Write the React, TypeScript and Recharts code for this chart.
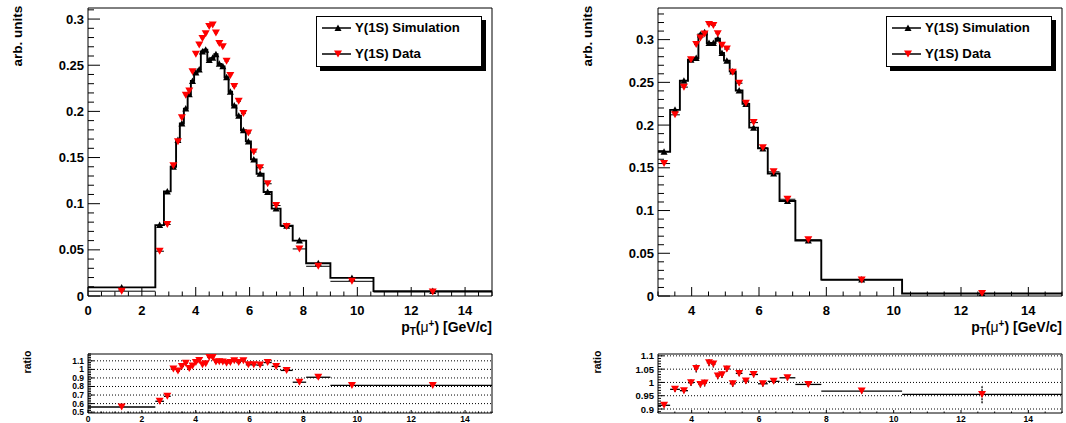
import React from 'react';
import {
  ComposedChart,
  Line,
  Scatter,
  XAxis,
  YAxis,
  ErrorBar,
  ReferenceLine,
  ReferenceArea,
} from 'recharts';

const FONT = '"Liberation Sans", Arial, Helvetica, sans-serif';

// left pad: full pT range, 33 bins
const leftEdges = [
  0, 2.5, 2.82, 3.07, 3.27, 3.41, 3.56, 3.7, 3.82, 3.94, 4.07, 4.19, 4.31, 4.43, 4.57, 4.69, 4.81,
  4.94, 5.07, 5.22, 5.35, 5.51, 5.68, 5.86, 6.05, 6.26, 6.52, 6.82, 7.15, 7.6, 8.1, 9.0, 10.6, 15,
];
const leftSim = [
  0.0093, 0.0768, 0.1133, 0.14, 0.169, 0.1868, 0.203, 0.2185, 0.233, 0.242, 0.2455, 0.265, 0.2668,
  0.2557, 0.258, 0.262, 0.2515, 0.2488, 0.237, 0.2213, 0.2064, 0.1954, 0.1796, 0.1675, 0.148, 0.1324,
  0.1126, 0.0947, 0.0762, 0.06, 0.0355, 0.0196, 0.0053,
];
const leftData = [
  0.0052, 0.0485, 0.0775, 0.141, 0.167, 0.193, 0.2175, 0.222, 0.243, 0.262, 0.272, 0.279, 0.284,
  0.292, 0.2935, 0.285, 0.2736, 0.27, 0.2544, 0.239, 0.227, 0.211, 0.1976, 0.1766, 0.156, 0.139,
  0.1216, 0.098, 0.0753, 0.051, 0.0322, 0.0159, 0.0043,
];
const leftRatio = [
  0.56, 0.627, 0.685, 1.004, 0.98, 1.035, 1.073, 1.01, 1.04, 1.08, 1.104, 1.054, 1.065, 1.142, 1.138,
  1.085, 1.088, 1.085, 1.073, 1.08, 1.1, 1.08, 1.1, 1.054, 1.054, 1.05, 1.08, 1.035, 0.988, 0.85,
  0.908, 0.812, 0.812,
];

// right pad: pT > 3, 22 bins
const rightEdges = [
  3.0, 3.36, 3.65, 3.89, 4.07, 4.2, 4.32, 4.45, 4.58, 4.71, 4.84, 4.96, 5.13, 5.31, 5.51, 5.71, 5.97,
  6.26, 6.61, 7.08, 7.85, 10.25, 15,
];
const rightSim = [
  0.1688, 0.2178, 0.2519, 0.2765, 0.2785, 0.306, 0.3085, 0.296, 0.296, 0.301, 0.2844, 0.2754, 0.2628,
  0.2405, 0.2248, 0.197, 0.1727, 0.1434, 0.1112, 0.065, 0.0192, 0.003,
];
const rightData = [
  0.155, 0.212, 0.2444, 0.2765, 0.2942, 0.302, 0.3067, 0.3177, 0.3165, 0.307, 0.2934, 0.289, 0.2617,
  0.249, 0.2256, 0.2029, 0.1735, 0.1453, 0.1132, 0.0658, 0.0186, 0.0029,
];
const rightRatio = [
  0.914, 0.974, 0.969, 0.999, 1.0525, 0.9925, 0.9975, 1.074, 1.069, 1.024, 1.029, 1.051, 0.995, 1.034,
  1.005, 1.03, 0.995, 1.004, 1.0175, 0.9925, 0.9675, 0.955,
];
const rightRatioErr = [
  0.006, 0.01, 0.01, 0.012, 0.015, 0.012, 0.013, 0.013, 0.013, 0.012, 0.012, 0.012, 0.012, 0.011,
  0.011, 0.011, 0.011, 0.01, 0.01, 0.01, 0.01, 0.033,
];

// axis labels
const leftXMajor = [0, 2, 4, 6, 8, 10, 12, 14];
const rightXMajor = [4, 6, 8, 10, 12, 14];
const mainYMajor = [0, 0.05, 0.1, 0.15, 0.2, 0.25, 0.3];
const leftRatioYMajor = [0.5, 0.6, 0.7, 0.8, 0.9, 1, 1.1];
const rightRatioYMajor = [0.9, 0.95, 1, 1.05, 1.1];

const legendItems = [
  { label: 'Υ(1S) Simulation', up: true },
  { label: 'Υ(1S) Data', up: false },
];

const range = (a: number, b: number, step: number) => {
  const out: number[] = [];
  for (let v = a; v <= b + 1e-9; v += step) out.push(Math.round(v * 1000) / 1000);
  return out;
};
const isIn = (list: number[], v: number) => list.some((m) => Math.abs(m - v) < 1e-6);

// histogram outline: one point per bin edge, drawn with stepAfter
const stepPoints = (edges: number[], vals: number[]) =>
  edges.map((e, i) => ({ x: e, y: vals[Math.min(i, vals.length - 1)] }));

const binPoints = (edges: number[], vals: number[], err?: number[]) =>
  vals.map((v, i) => ({
    x: (edges[i] + edges[i + 1]) / 2,
    y: v,
    ex: (edges[i + 1] - edges[i]) / 2,
    ey: err ? err[i] : 0,
  }));

const TriUp = (p: any) => {
  const { cx, cy } = p;
  if (cx == null || cy == null) return null;
  return <path d={`M${cx - 3.5},${cy + 3} L${cx + 3.5},${cy + 3} L${cx},${cy - 3.5} Z`} fill="#000" />;
};

const TriDown = (p: any) => {
  const { cx, cy } = p;
  if (cx == null || cy == null) return null;
  return <path d={`M${cx - 4},${cy - 3.5} L${cx + 4},${cy - 3.5} L${cx},${cy + 3.5} Z`} fill="#ff0000" />;
};

const BottomTick = (props: any) => {
  const { x, y, payload, majors, majorLen, minorLen, fontSize, dy } = props;
  const major = isIn(majors, payload.value);
  return (
    <g>
      <line x1={x} x2={x} y1={y} y2={y - (major ? majorLen : minorLen)} stroke="#000" />
      {major && (
        <text
          x={x}
          y={y + dy}
          textAnchor="middle"
          dominantBaseline="central"
          fontSize={fontSize}
          fontWeight="bold"
          fontFamily={FONT}
          fill="#000"
        >
          {String(payload.value)}
        </text>
      )}
    </g>
  );
};

const LeftTick = (props: any) => {
  const { x, y, payload, majors, majorLen, minorLen, fontSize } = props;
  const major = isIn(majors, payload.value);
  return (
    <g>
      <line x1={x} x2={x + (major ? majorLen : minorLen)} y1={y} y2={y} stroke="#000" />
      {major && (
        <text
          x={x - 4}
          y={y}
          textAnchor="end"
          dominantBaseline="central"
          fontSize={fontSize}
          fontWeight="bold"
          fontFamily={FONT}
          fill="#000"
        >
          {String(payload.value)}
        </text>
      )}
    </g>
  );
};

function MainPanel({ left, edges, sim, data, xDomain, xMajor, yMax }: any) {
  const xTicks = range(xDomain[0], xDomain[1], 0.5);
  const yTicks = range(0, yMax, 0.01).filter((v) => v <= yMax);
  return (
    <div style={{ position: 'absolute', left, top: 0 }}>
      <ComposedChart width={500} height={340} margin={{ top: 8, right: 8, left: 0, bottom: 0 }}>
        <XAxis
          type="number"
          dataKey="x"
          domain={xDomain}
          allowDataOverflow
          ticks={xTicks}
          interval={0}
          height={44}
          tickSize={0}
          tickMargin={0}
          axisLine={false}
          tickLine={false}
          tick={(p: any) => (
            <BottomTick {...p} majors={xMajor} majorLen={9} minorLen={4.5} fontSize={13} dy={14} />
          )}
        />
        <YAxis
          type="number"
          domain={[0, yMax]}
          allowDataOverflow
          ticks={yTicks}
          interval={0}
          width={88}
          tickSize={0}
          tickMargin={0}
          axisLine={false}
          tickLine={false}
          tick={(p: any) => (
            <LeftTick {...p} majors={mainYMajor} majorLen={12} minorLen={6} fontSize={13} />
          )}
        />
        <Line
          data={stepPoints(edges, sim)}
          dataKey="y"
          type="stepAfter"
          stroke="#000"
          strokeWidth={1.9}
          dot={false}
          isAnimationActive={false}
        />
        <Scatter data={binPoints(edges, sim)} dataKey="y" shape={TriUp} isAnimationActive={false} />
        <Scatter data={binPoints(edges, data)} dataKey="y" shape={TriDown} isAnimationActive={false}>
          <ErrorBar dataKey="ex" direction="x" width={0} stroke="#000" strokeWidth={1} isAnimationActive={false} />
        </Scatter>
        <ReferenceArea
          x1={xDomain[0]}
          x2={xDomain[1]}
          y1={0}
          y2={yMax}
          fill="none"
          fillOpacity={0}
          stroke="#000"
          strokeWidth={1}
        />
      </ComposedChart>
    </div>
  );
}

function RatioPanel({ left, edges, ratio, err, xDomain, xMajor, yDomain, yMajor, yMinor, labelSize }: any) {
  const xTicks = range(xDomain[0], xDomain[1], 0.5);
  const yTicks = range(yMinor[0], yDomain[1], yMinor[1]).filter((v) => v >= yDomain[0] && v <= yDomain[1]);
  return (
    <div style={{ position: 'absolute', left, top: 340 }}>
      <ComposedChart width={500} height={83} margin={{ top: 14, right: 8, left: 0, bottom: 0 }}>
        <XAxis
          type="number"
          dataKey="x"
          domain={xDomain}
          allowDataOverflow
          ticks={xTicks}
          interval={0}
          height={10}
          tickSize={0}
          tickMargin={0}
          axisLine={false}
          tickLine={false}
          tick={(p: any) => (
            <BottomTick {...p} majors={xMajor} majorLen={3} minorLen={1.5} fontSize={8.5} dy={6} />
          )}
        />
        <YAxis
          type="number"
          domain={yDomain}
          allowDataOverflow
          ticks={yTicks}
          interval={0}
          width={88}
          tickSize={0}
          tickMargin={0}
          axisLine={false}
          tickLine={false}
          tick={(p: any) => (
            <LeftTick {...p} majors={yMajor} majorLen={6} minorLen={3} fontSize={labelSize} />
          )}
        />
        {yMajor.map((v: number) => (
          <ReferenceLine key={v} y={v} stroke="#000" strokeDasharray="1 2" strokeWidth={1} />
        ))}
        <Scatter data={binPoints(edges, ratio, err)} dataKey="y" shape={TriDown} isAnimationActive={false}>
          <ErrorBar dataKey="ex" direction="x" width={0} stroke="#000" strokeWidth={1.3} isAnimationActive={false} />
          {err && (
            <ErrorBar dataKey="ey" direction="y" width={0} stroke="#000" strokeWidth={1.3} strokeDasharray="2 1" isAnimationActive={false} />
          )}
        </Scatter>
        <ReferenceArea
          x1={xDomain[0]}
          x2={xDomain[1]}
          y1={yDomain[0]}
          y2={yDomain[1]}
          fill="none"
          fillOpacity={0}
          stroke="#000"
          strokeWidth={1}
        />
      </ComposedChart>
    </div>
  );
}

function LegendBox({ left }: { left: number }) {
  return (
    <div
      style={{
        position: 'absolute',
        left,
        top: 16,
        width: 166,
        height: 51,
        border: '1px solid #000',
        boxShadow: '4px 4px 0 #000',
        background: '#fff',
        boxSizing: 'border-box',
      }}
    >
      {legendItems.map((it, i) => (
        <div key={it.label} style={{ position: 'absolute', left: 0, top: i === 0 ? 3 : 29, height: 16, width: '100%' }}>
          <svg width={34} height={16} style={{ position: 'absolute', left: 4, top: 0 }}>
            <line x1={1} x2={30} y1={8} y2={8} stroke="#000" strokeWidth={1.5} />
            {it.up ? <TriUp cx={17} cy={8} /> : <TriDown cx={17} cy={8} />}
          </svg>
          <span
            style={{
              position: 'absolute',
              left: 38,
              top: 0,
              lineHeight: '16px',
              fontSize: 13.2,
              fontWeight: 'bold',
              whiteSpace: 'nowrap',
              color: '#000',
            }}
          >
            {it.label}
          </span>
        </div>
      ))}
    </div>
  );
}

function Titles({ off }: { off: number }) {
  return (
    <>
      <div
        style={{
          position: 'absolute',
          left: off + 18 - 40,
          top: 36 - 8,
          width: 80,
          height: 16,
          lineHeight: '16px',
          textAlign: 'center',
          fontSize: 13.5,
          fontWeight: 'bold',
          transform: 'rotate(-90deg)',
          whiteSpace: 'nowrap',
        }}
      >
        arb. units
      </div>
      <div
        style={{
          position: 'absolute',
          left: off + 27 - 20,
          top: 362 - 7,
          width: 40,
          height: 14,
          lineHeight: '14px',
          textAlign: 'center',
          fontSize: 10.5,
          fontWeight: 'bold',
          transform: 'rotate(-90deg)',
          whiteSpace: 'nowrap',
        }}
      >
        ratio
      </div>
      <div
        style={{
          position: 'absolute',
          left: off + 332,
          top: 319,
          width: 160,
          textAlign: 'right',
          fontSize: 14,
          fontWeight: 'bold',
          lineHeight: '16px',
          whiteSpace: 'nowrap',
        }}
      >
        p<span style={{ fontSize: 10, position: 'relative', top: 3 }}>T</span>(
        <span style={{ fontWeight: 'normal' }}>μ</span>
        <span style={{ fontSize: 10, position: 'relative', top: -5 }}>+</span>) [GeV/c]
      </div>
    </>
  );
}

export default function App() {
  return (
    <div
      style={{
        position: 'absolute',
        left: 0,
        top: 0,
        width: 1066,
        height: 423,
        background: '#fff',
        fontFamily: FONT,
        color: '#000',
        overflow: 'hidden',
      }}
    >
      <MainPanel left={0} edges={leftEdges} sim={leftSim} data={leftData} xDomain={[0, 15]} xMajor={leftXMajor} yMax={0.312} />
      <MainPanel left={570} edges={rightEdges} sim={rightSim} data={rightData} xDomain={[3, 15]} xMajor={rightXMajor} yMax={0.337} />
      <RatioPanel
        left={0}
        edges={leftEdges}
        ratio={leftRatio}
        xDomain={[0, 15]}
        xMajor={leftXMajor}
        yDomain={[0.49, 1.18]}
        yMajor={leftRatioYMajor}
        yMinor={[0.5, 0.02]}
        labelSize={8.5}
      />
      <RatioPanel
        left={570}
        edges={rightEdges}
        ratio={rightRatio}
        err={rightRatioErr}
        xDomain={[3, 15]}
        xMajor={rightXMajor}
        yDomain={[0.885, 1.107]}
        yMajor={rightRatioYMajor}
        yMinor={[0.89, 0.01]}
        labelSize={9.5}
      />
      <LegendBox left={316} />
      <LegendBox left={886} />
      <Titles off={0} />
      <Titles off={570} />
    </div>
  );
}
